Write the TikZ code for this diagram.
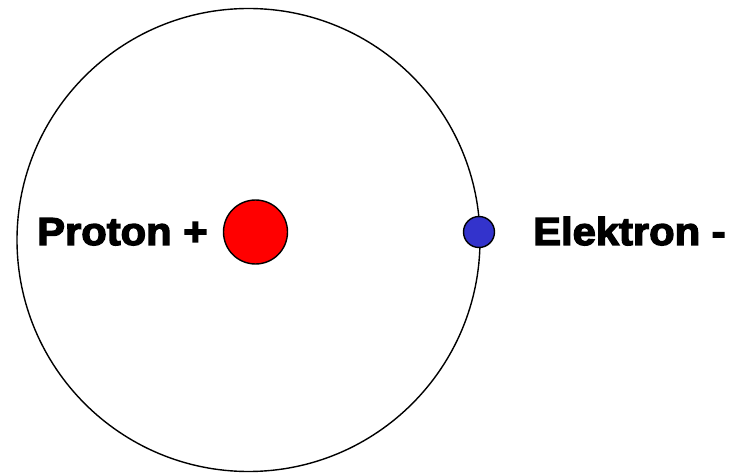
\documentclass[tikz,border=0pt]{standalone}
\usepackage{fontspec}
\newfontfamily\heavyfont[FakeBold=3.5,FakeStretch=1.07]{Liberation Sans Bold}
\definecolor{protonred}{HTML}{FF0000}
\definecolor{electronblue}{HTML}{3333CC}
\begin{document}
\begin{tikzpicture}[x=1pt,y=-1pt,
  orbit/.style={draw=black,line width=1.4pt},
  particle/.style={circle,draw=black,line width=1.4pt,inner sep=0pt},
  label/.style={font=\heavyfont\fontsize{39}{39}\selectfont,inner sep=0pt,anchor=base west}]
\useasboundingbox (0,0) rectangle (734,473);
\draw[orbit] (248.5,240) circle[radius=231.5];
\node[particle,fill=protonred,minimum size=64pt] (proton) at (255.5,232) {};
\node[particle,fill=electronblue,minimum size=31pt] (electron) at (479,232) {};
\node[label] (plabel) at (37,245) {Proton +};
\node[label] (elabel) at (533,245) {Elektron -};
\end{tikzpicture}
\end{document}
